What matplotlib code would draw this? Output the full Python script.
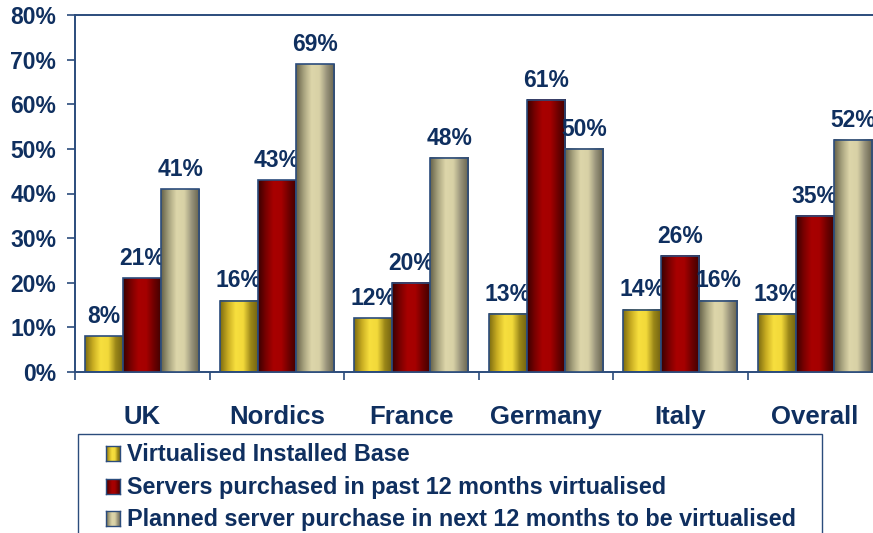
import numpy as np
import matplotlib
matplotlib.use('Agg')
import matplotlib.pyplot as plt
from matplotlib.colors import LinearSegmentedColormap
from matplotlib.patches import Rectangle

plt.rcParams['font.family'] = ['Liberation Sans', 'DejaVu Sans']
plt.rcParams['font.weight'] = 'bold'

categories  = ['UK', 'Nordics', 'France', 'Germany', 'Italy', 'Overall']
series      = ['Virtualised Installed Base',
               'Servers purchased in past 12 months virtualised',
               'Planned server purchase in next 12 months to be virtualised']
installed   = [8, 16, 12, 13, 14, 13]
past_12m    = [21, 43, 20, 61, 26, 35]
next_12m    = [41, 69, 48, 50, 16, 52]
yticks      = [0, 10, 20, 30, 40, 50, 60, 70, 80]

navy        = '#0f2f5f'
line_col    = '#2b4c7c'

# cylinder-ish shading for each series: edge, highlight, edge
shades = [
    ['#7d6c10', '#c9ad22', '#f7df3e', '#f2d93a', '#9a8618', '#6f6010'],
    ['#3a0000', '#7a0000', '#a80000', '#a50000', '#6e0000', '#3f0000'],
    ['#66624a', '#a9a47f', '#ddd6aa', '#d8d1a6', '#97927a', '#66624c'],
]
cmaps = [LinearSegmentedColormap.from_list('s%d' % i, c) for i, c in enumerate(shades)]
grad = np.linspace(0, 1, 64).reshape(1, -1)

W, H = 873, 533
fig = plt.figure(figsize=(W / 100, H / 100), dpi=100)
ax = fig.add_axes([75 / W, 1 - 372 / H, (882 - 75) / W, (372 - 15) / H])

x = np.arange(len(categories))
bw = 0.283
data = [installed, past_12m, next_12m]
for i, vals in enumerate(data):
    bars = ax.bar(x + (i - 1) * bw, vals, bw, facecolor='none',
                  edgecolor=line_col, linewidth=1.2, zorder=3 + 2 * i)
    for b, v in zip(bars, vals):
        x0, w, h = b.get_x(), b.get_width(), b.get_height()
        ax.imshow(grad, cmap=cmaps[i], aspect='auto',
                  extent=(x0, x0 + w, 0, h), zorder=2 + 2 * i)
        ax.annotate('%d%%' % v, (x0 + w / 2, h), xytext=(0, 9.5),
                    textcoords='offset points', ha='center', va='baseline',
                    fontsize=16.5, color=navy, fontweight='bold', zorder=3.5 + 2 * i)

ax.set_xlim(-0.5, len(categories) - 0.5)
ax.set_ylim(0, 80)
ax.set_yticks(yticks)
ax.set_yticklabels(['%d%%' % t for t in yticks])
ax.set_xticks(x)
ax.set_xticklabels(categories)
ax.set_xticks(np.arange(len(categories) + 1) - 0.5, minor=True)
ax.tick_params(axis='x', which='major', length=0, pad=24, labelsize=18.5, labelcolor=navy)
ax.tick_params(axis='x', which='minor', length=6, width=1.2, color=line_col, direction='out')
ax.tick_params(axis='y', length=5.5, width=1.2, color=line_col, pad=8, labelsize=16.5, labelcolor=navy)
for lab in ax.get_xticklabels() + ax.get_yticklabels():
    lab.set_fontweight('bold')
ax.spines['right'].set_visible(False)
for s in ['left', 'top', 'bottom']:
    ax.spines[s].set_color(line_col)
    ax.spines[s].set_linewidth(1.4)

# legend box, cut off at the bottom of the picture
fig.patches.append(Rectangle((78 / W, -0.05), (822 - 78) / W, 0.05 + 1 - 434 / H,
                             transform=fig.transFigure, facecolor='white',
                             edgecolor=line_col, linewidth=1.0, zorder=-5))
baselines = [461, 494, 526]
for i, (name, yb) in enumerate(zip(series, baselines)):
    hax = fig.add_axes([106 / W, 1 - yb / H, 14 / W, 15 / H], zorder=5)
    hax.imshow(grad, cmap=cmaps[i], aspect='auto')
    hax.set_xticks([])
    hax.set_yticks([])
    for s in hax.spines.values():
        s.set_color(line_col)
        s.set_linewidth(1.0)
    fig.text(127 / W, 1 - yb / H, name, ha='left', va='baseline',
             fontsize=16.8, color=navy, fontweight='bold')

fig.savefig('out.png', dpi=100)
